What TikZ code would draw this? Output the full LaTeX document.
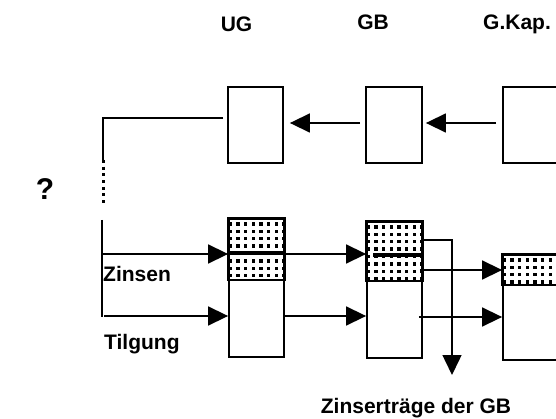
\documentclass[tikz,border=0pt]{standalone}
\usepackage{fontspec}
\setmainfont{Liberation Sans}
\usetikzlibrary{arrows.meta,calc}
\newcommand{\hatchzone}[2]{%
  \begin{scope}
    \clip (#1.north west) rectangle ([yshift=-#2pt]#1.north east);
    \foreach \i in {0,...,8}{\foreach \j in {0,...,9}{
      \fill ([xshift={0.4pt+\i*7.7pt}, yshift={-4.2pt-\j*7.4pt}]#1.north west) rectangle ++(3.3,3.3);
    }}
  \end{scope}
  \draw[line width=1.8pt] (#1.north west) rectangle ([yshift=-#2pt]#1.north east);
}
\begin{document}
\begin{tikzpicture}[x=1pt,y=-1pt,
  box/.style={draw, line width=1.8pt, inner sep=0pt, minimum width=55pt},
  con/.style={line width=1.5pt},
  arr/.style={con, -{Triangle[length=20pt,width=19pt]}},
  lbl/.style={font=\bfseries\fontsize{21}{25}\selectfont, inner sep=0pt}]
\useasboundingbox (0,0) rectangle (556,419);

% top boxes
\node[box, minimum height=76pt] (ugT) at (255.5,125) {};
\node[box, minimum height=76pt, minimum width=56pt] (gbT) at (394,125) {};
\node[box, minimum height=76pt, minimum width=56pt] (gkT) at (531,125) {};
\draw[arr] ([xshift=-5pt,yshift=2pt]gbT.west) -- ([xshift=6pt,yshift=2pt]ugT.east);
\draw[arr] ([xshift=-6pt,yshift=2pt]gkT.west) -- ([xshift=3pt,yshift=2pt]gbT.east);

% bottom boxes
\node[box, minimum height=138pt] (ugB) at (256.5,288) {};
\node[box, minimum height=136pt] (gbB) at (394.5,290) {};
\node[box, minimum height=105pt, minimum width=56pt] (gkB) at (531,307.5) {};
\hatchzone{ugB}{62}
\hatchzone{gbB}{60}
\hatchzone{gkB}{31}
\draw[line width=3.2pt] ([yshift=-35pt]ugB.north west) -- ([yshift=-35pt]ugB.north east);
\draw[line width=3.2pt] ([xshift=7pt,yshift=-34pt]gbB.north west) -- ([xshift=-1pt,yshift=-34pt]gbB.north east);

% left bracket
\coordinate (l2) at (103,160);
\coordinate (l3) at (103,204);
\coordinate (l4) at (102,220);
\coordinate (l5) at (102,317);
\draw[con] ([xshift=-4pt,yshift=7pt]ugT.west) -| (l2);
\draw[line width=3pt, dash pattern=on 3pt off 3.7pt] (l2) -- (l3);
\draw[con] (l4) -- (l5);

% flows
\coordinate (z0) at (103,254);
\coordinate (t0) at (104,316);
\draw[arr] (z0) -- (z0 -| ugB.west);
\draw[arr] (t0) -- (t0 -| ugB.west);
\draw[arr] (z0 -| ugB.east) -- (z0 -| gbB.west);
\draw[arr] ([xshift=-1pt]t0 -| ugB.east) -- (t0 -| gbB.west);

\coordinate (g1) at (452,240);
\coordinate (zout) at (452,375);
\coordinate (m) at (503,270);
\coordinate (n) at (503,317);
\draw[arr] (g1 -| gbB.east) -- (g1) -- (zout);
\draw[arr] ([xshift=-3pt]m -| gbB.east) -- (m -| gkB.west);
\draw[arr] ([xshift=-4pt]n -| gbB.east) -- (n -| gkB.west);

% labels
\node[lbl, anchor=base] (tUG) at (236.5,32) {UG};
\node[lbl, anchor=base] (tGB) at (373,30) {GB};
\node[lbl, anchor=base] (tGK) at (517,30) {G.Kap.};
\node[lbl, anchor=base west] (tZ) at (103,282) {Zinsen};
\node[lbl, anchor=base west] (tT) at (104,349) {Tilgung};
\node[lbl, anchor=base] (tZE) at (416,413) {Zinserträge der GB};
\node[lbl, anchor=base, font=\bfseries\fontsize{30}{34}\selectfont] (tQ) at (45,200) {?};
\end{tikzpicture}
\end{document}
